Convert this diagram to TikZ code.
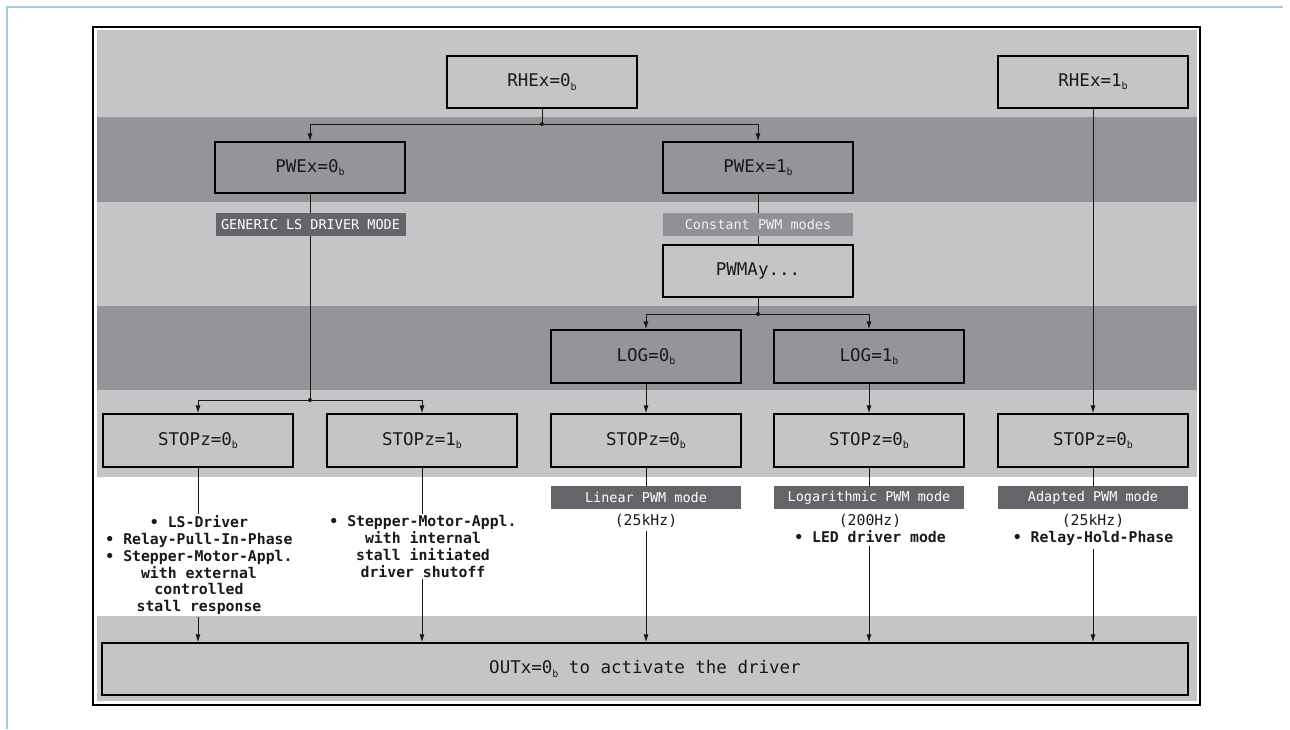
\documentclass[tikz,border=0pt]{standalone}
\usepackage{fontspec}
\usetikzlibrary{arrows.meta}
\newfontfamily\dvm{DejaVu Sans Mono}
\definecolor{bandlight}{RGB}{196,197,199}
\definecolor{banddark}{RGB}{147,149,152}
\definecolor{lbldark}{RGB}{100,101,104}
\definecolor{lblmid}{RGB}{143,145,148}
\definecolor{frameblue}{RGB}{160,204,224}
\newcommand{\bsub}{\raisebox{-0.35ex}{\fontsize{10}{10}\selectfont b}}
\begin{document}
\begin{tikzpicture}[x=1pt,y=-1pt,
  box/.style={draw=black, line width=1.2pt, minimum width=190pt, minimum height=52pt, inner sep=0pt, font=\dvm\fontsize{17.5}{20}\selectfont, text=black!90},
  tag/.style={fill=lbldark, minimum width=190pt, minimum height=23pt, inner sep=0pt, text=white, font=\dvm\fontsize{13.5}{15}\selectfont},
  conn/.style={line width=0.9pt, draw=black!90},
  arr/.style={conn, -{Latex[length=8pt,width=5pt]}},
  dot/.style={circle, fill=black!90, inner sep=0pt, minimum size=4pt},
  note/.style={align=center, font=\dvm\bfseries\fontsize{14.8}{16.8}\selectfont, inner sep=1.5pt, anchor=north, text=black!90},
  plainnote/.style={note, font=\dvm\fontsize{14.8}{16.8}\selectfont},
]
\useasboundingbox (0,0) rectangle (1290,729);
% outer blue frame lines
\draw[frameblue, line width=2pt] (7,729) -- (7,7) -- (1283,7);
% bands
\fill[bandlight] (97,30) rectangle (1197,117);
\fill[banddark] (97,117) rectangle (1197,202);
\fill[bandlight] (97,202) rectangle (1197,306);
\fill[banddark] (97,306) rectangle (1197,390);
\fill[bandlight] (97,390) rectangle (1197,477);
\fill[bandlight] (97,616) rectangle (1197,701);
\draw[line width=1.5pt] (93,27) rectangle (1200,705);

% nodes
\node[box] (rhe0) at (542,82) {RHEx=0\bsub};
\node[box] (rhe1) at (1093,82) {RHEx=1\bsub};
\node[box, minimum height=51pt] (pwe0) at (310,167.5) {PWEx=0\bsub};
\node[box, minimum height=51pt] (pwe1) at (758,167.5) {PWEx=1\bsub};
\node[tag] (gen) at (310.5,224.5) {GENERIC LS DRIVER MODE};
\node[tag, fill=lblmid, text=white!94!black] (cpwm) at (758,224.5) {Constant PWM modes};
\node[box] (pwma) at (758,271) {PWMAy...};
\node[box, minimum height=53pt] (log0) at (646,356.5) {LOG=0\bsub};
\node[box, minimum height=53pt] (log1) at (869,356.5) {LOG=1\bsub};
\node[box, minimum height=53pt] (stop1) at (198,440.5) {STOPz=0\bsub};
\node[box, minimum height=53pt] (stop2) at (422,440.5) {STOPz=1\bsub};
\node[box, minimum height=53pt] (stop3) at (646,440.5) {STOPz=0\bsub};
\node[box, minimum height=53pt] (stop4) at (869,440.5) {STOPz=0\bsub};
\node[box, minimum height=53pt] (stop5) at (1093,440.5) {STOPz=0\bsub};
\node[tag] (mlin) at (646,497.5) {Linear PWM mode};
\node[tag] (mlog) at (869,497.5) {Logarithmic PWM mode};
\node[tag] (madp) at (1093,497.5) {Adapted PWM mode};
\node[box, minimum width=1086pt] (out) at (645,669) {OUTx=0\bsub{} to activate the driver};

\node[note] (n1) at (199,514) {• LS-Driver\\• Relay-Pull-In-Phase\\• Stepper-Motor-Appl.\\with external\\controlled\\stall response};
\node[note] (n2) at (423,514) {• Stepper-Motor-Appl.\\with internal\\stall initiated\\driver shutoff};
\node[plainnote, inner ysep=3pt] (n3) at (646,511) {(25kHz)};
\node[plainnote, inner ysep=3pt] (n4) at (870,511) {(200Hz)\\\textbf{• LED driver mode}};
\node[plainnote, inner ysep=3pt] (n5) at (1093,511) {(25kHz)\\\textbf{• Relay-Hold-Phase}};

% junctions
\coordinate (j1) at (542,124);
\coordinate (j2) at (310,400);
\coordinate (j3) at (758,314);

% connectors
\draw[conn] (rhe0.south) -- (j1);
\draw[arr] (j1) -| (pwe0.north);
\draw[arr] (j1) -| (pwe1.north);
\node[dot] (d1) at (j1) {};
\draw[arr] (rhe1.south) -- (stop5.north);
\draw[conn] (pwe0.south) -- (gen.north -| pwe0.south);
\draw[conn] (gen.south -| pwe0.south) -- (j2);
\draw[arr] (j2) -| (stop1.north);
\draw[arr] (j2) -| (stop2.north);
\node[dot] (d2) at (j2) {};
\draw[conn] (pwe1.south) -- (cpwm.north);
\draw[conn] (cpwm.south) -- (pwma.north);
\draw[conn] (pwma.south) -- (j3);
\draw[arr] (j3) -| (log0.north);
\draw[arr] (j3) -| (log1.north);
\node[dot] (d3) at (j3) {};
\draw[arr] (log0.south) -- (stop3.north);
\draw[arr] (log1.south) -- (stop4.north);
\draw[conn] (stop3.south) -- (stop3.south |- mlin.north);
\draw[conn] (stop4.south) -- (stop4.south |- mlog.north);
\draw[conn] (stop5.south) -- (stop5.south |- madp.north);
\draw[conn] (stop1.south) -- (stop1.south |- n1.north);
\draw[conn] (stop2.south) -- (stop2.south |- n2.north);
\draw[arr] (stop1.south |- n1.south) -- (stop1.south |- out.north);
\draw[arr] (stop2.south |- n2.south) -- (stop2.south |- out.north);
\draw[arr] (stop3.south |- n3.south) -- (stop3.south |- out.north);
\draw[arr] (stop4.south |- n4.south) -- (stop4.south |- out.north);
\draw[arr] (stop5.south |- n5.south) -- (stop5.south |- out.north);
\end{tikzpicture}
\end{document}
